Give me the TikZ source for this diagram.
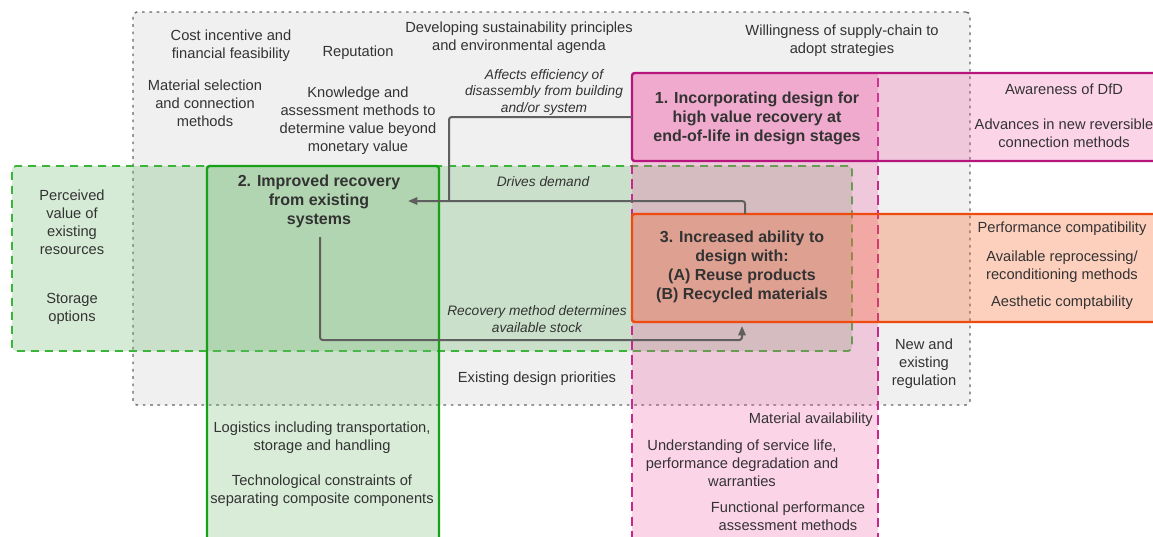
\documentclass[tikz,border=0pt]{standalone}
\usepackage{fontspec}
\setmainfont{Liberation Sans}
\usetikzlibrary{arrows.meta,fit}
\definecolor{txt}{HTML}{333333}
\definecolor{bggrey}{HTML}{F0F0F0}
\definecolor{dotline}{HTML}{666666}
\definecolor{gfill}{HTML}{73BC73}
\definecolor{gdash}{HTML}{3CB43C}
\definecolor{gsolid}{HTML}{18A018}
\definecolor{pfill}{HTML}{F353A3}
\definecolor{pdash}{HTML}{C8288E}
\definecolor{mline}{HTML}{B5157D}
\definecolor{ofill}{HTML}{F86226}
\definecolor{oline}{HTML}{F04A10}
\definecolor{linegrey}{HTML}{5F5F5F}
\begin{document}
\begin{tikzpicture}[x=0.75pt,y=-0.75pt,
  lbl/.style={text=txt,font=\fontsize{11}{13.5}\selectfont,align=center,inner sep=0pt},
  ttl/.style={text=txt,font=\fontsize{12}{14.3}\selectfont\bfseries,align=center,inner sep=0pt},
  itl/.style={text=txt,font=\fontsize{10.3}{12.4}\selectfont\itshape,align=center,inner sep=0pt},
  region/.style={inner sep=0pt,outer sep=0pt},
  conn/.style={draw=linegrey,line width=1.5pt,rounded corners=2pt},
  tipped/.style={conn,-{Triangle[length=7pt,width=5.5pt]}},
]
\useasboundingbox (0,0) rectangle (1153,536);
\clip (0,0) rectangle (1153,536);
% regions
\node[region,fit={(133,12)(970,405)},fill=bggrey,draw=dotline,line width=1.1pt,dash pattern=on 2pt off 3.5pt,rounded corners=3pt] (gbox) {};
\node[region,fit={(12,166)(852,351)},fill=gfill,fill opacity=0.3,draw=gdash,draw opacity=1,line width=1.4pt,dash pattern=on 6pt off 4.5pt,rounded corners=3pt] (gdbox) {};
\node[region,fit={(632,73)(878,560)},fill=pfill,fill opacity=0.25,draw=pdash,draw opacity=1,line width=1.4pt,dash pattern=on 7pt off 4pt] (pbox) {};
\node[region,fit={(207,166)(439,560)},fill=gfill,fill opacity=0.28,draw=gsolid,draw opacity=1,line width=1.8pt,rounded corners=2pt] (b2) {};
\node[region,fit={(632,73)(1175,161)},fill=pfill,fill opacity=0.25,draw=mline,draw opacity=1,line width=1.8pt,rounded corners=2pt] (b1) {};
\node[region,fit={(632,214)(1175,322)},fill=ofill,fill opacity=0.3,draw=oline,draw opacity=1,line width=1.8pt,rounded corners=2pt] (b3) {};
% texts in grey box
\node[lbl] (c1) at (231,46) {Cost incentive and\\financial feasibility};
\node[lbl] (c2) at (358,53) {Reputation};
\node[lbl] (c3) at (519,38) {Developing sustainability principles\\and environmental agenda};
\node[lbl] (c4) at (842,41) {Willingness of supply-chain to\\adopt strategies};
\node[lbl] (c5) at (205,103) {Material selection\\and connection\\methods};
\node[lbl] (c6) at (358,121) {Knowledge and\\assessment methods to\\determine value beyond\\monetary value};
\node[lbl] (c7) at (537,379) {Existing design priorities};
\node[lbl] (c8) at (924,364) {New and\\existing\\regulation};
% green dashed region texts
\node[lbl] (g1) at (72,222) {Perceived\\value of\\existing\\resources};
\node[lbl] (g2) at (72,309) {Storage\\options};
% box 2
\node[ttl] (t2) at (319,201) {2. Improved recovery\\from existing\\systems};
\node[lbl] (s1) at (322,438) {Logistics including transportation,\\storage and handling};
\node[lbl] (s2) at (322,491) {Technological constraints of\\separating composite components};
% box 1
\node[ttl] (t1) at (757,118) {1. Incorporating design for\\high value recovery at\\end-of-life in design stages};
\node[lbl] (r1) at (1064,89) {Awareness of DfD};
\node[lbl] (r2) at (1064,133) {Advances in new reversible\\connection methods};
% box 3
\node[ttl] (t3) at (742,267) {3. Increased ability to\\design with:\\(A) Reuse products\\(B) Recycled materials};
\node[lbl] (r3) at (1062,229) {Performance compatibility};
\node[lbl] (r4) at (1062,267) {Available reprocessing/\\reconditioning methods};
\node[lbl] (r5) at (1062,303) {Aesthetic comptability};
% pink region texts
\node[lbl,anchor=east] (p1) at (873,420) {Material availability};
\node[lbl] (p2) at (742,463) {Understanding of service life,\\performance degradation and\\warranties};
\node[lbl] (p3) at (788,516) {Functional performance\\assessment methods};
% connector labels
\node[itl] (l1) at (544,92) {Affects efficiency of\\disassembly from building\\and/or system};
\node[itl] (l2) at (543,182) {Drives demand};
\node[itl] (l3) at (537,319) {Recovery method determines\\available stock};
% connectors
\coordinate (j1) at (449,201);
\coordinate (dx) at (745,0);
\coordinate (tip2) at (408,201);
\coordinate (rs) at (320,237);
\coordinate (rc) at (742,340);
\coordinate (re) at (742,326);
\draw[conn] (b1.west) -| (j1);
\draw[tipped] (b3.north -| dx) |- (tip2);
\draw[tipped] (rs) |- (rc) -- (re);
\end{tikzpicture}
\end{document}
